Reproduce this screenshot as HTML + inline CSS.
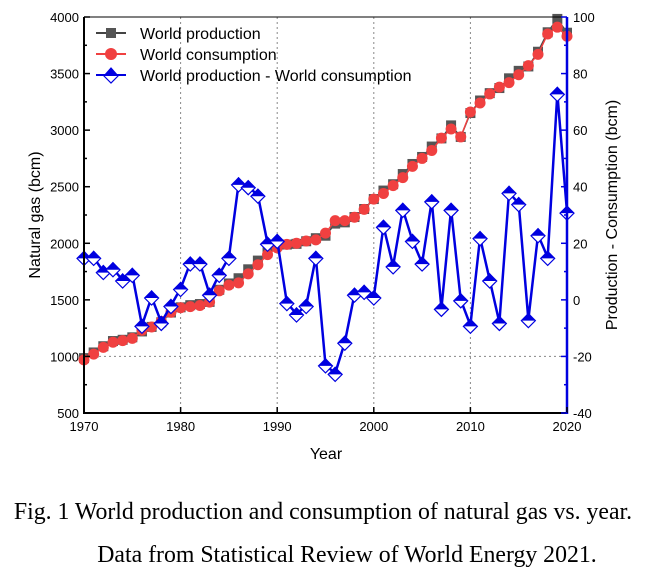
<!DOCTYPE html>
<html><head><meta charset="utf-8"><style>
body{margin:0;background:#fff;width:646px;height:575px;overflow:hidden}
svg text{font-family:"Liberation Sans",Arial,sans-serif}
.cap{font-family:"Liberation Serif",serif;font-size:23.8px}
</style></head><body>
<svg id="chart" width="646" height="575" viewBox="0 0 646 575" xmlns="http://www.w3.org/2000/svg">
<g id="grid"></g>
<g id="series"></g>
<g id="axes"></g>
<g>
  <line x1="96" y1="33" x2="126" y2="33" stroke="#444" stroke-width="2"/>
  <rect x="106" y="28" width="10" height="10" fill="#555"/>
  <text x="140" y="39" font-size="16">World production</text>
  <line x1="96" y1="54" x2="126" y2="54" stroke="#f04040" stroke-width="2"/>
  <circle cx="111" cy="54" r="6" fill="#f04040"/>
  <text x="140" y="60" font-size="16">World consumption</text>
  <line x1="96" y1="75" x2="126" y2="75" stroke="#0000e0" stroke-width="2"/>
  <polygon points="111,68 118,76 111,83 104,76" fill="#fff" stroke="#0000e0" stroke-width="1.2"/>
  <polygon points="111,68 118,76 104,76" fill="#0000e0"/>
  <text x="140" y="81" font-size="16">World production - World consumption</text>
</g>
<text x="326" y="459" font-size="16" text-anchor="middle">Year</text>
<text transform="translate(40,215) rotate(-90)" font-size="16" text-anchor="middle">Natural gas (bcm)</text>
<text transform="translate(617,215) rotate(-90)" font-size="16" text-anchor="middle">Production - Consumption (bcm)</text>
<text class="cap" x="323" y="519" text-anchor="middle">Fig. 1 World production and consumption of natural gas vs. year.</text>
<text class="cap" x="347" y="562" text-anchor="middle">Data from Statistical Review of World Energy 2021.</text>
</svg>
<script>
const years=[];for(let y=1970;y<=2020;y++)years.push(y);
const consumption=[970,1020,1080,1125,1140,1160,1230,1260,1310,1390,1430,1440,1450,1480,1580,1630,1650,1730,1810,1900,1960,1990,2000,2020,2030,2090,2200,2200,2230,2300,2390,2440,2510,2580,2680,2750,2820,2930,3010,2940,3160,3240,3320,3380,3420,3490,3570,3670,3850,3910,3830];
const production=[985,1035,1090,1136,1147,1169,1221,1261,1302,1388,1434,1453,1463,1482,1589,1645,1691,1770,1847,1920,1981,1989,1995,2018,2045,2067,2174,2185,2232,2303,2391,2466,2522,2612,2701,2763,2855,2927,3042,2940,3151,3262,3327,3372,3458,3524,3563,3693,3865,3983,3861];
const difference=[15,15,10,11,7,9,-9,1,-8,-2,4,13,13,2,9,15,41,40,37,20,21,-1,-5,-2,15,-23,-26,-15,2,3,1,26,12,32,21,13,35,-3,32,0,-9,22,7,-8,38,34,-7,23,15,73,31];
const xTicks=[1970,1980,1990,2000,2010,2020];
const leftTicks=[500,1000,1500,2000,2500,3000,3500,4000];
const rightTicks=[-40,-20,0,20,40,60,80,100];
const X0=84,X1=567,Y0=413,Y1=17;
const xs=v=>X0+(v-1970)/50*(X1-X0);
const yl=v=>Y0-(v-500)/3500*(Y0-Y1);
const yr=v=>Y0-(v+40)/140*(Y0-Y1);
const NS="http://www.w3.org/2000/svg";
function mk(p,tag,at){const e=document.createElementNS(NS,tag);for(const k in at)e.setAttribute(k,at[k]);p.appendChild(e);return e;}
const grid=document.getElementById('grid'),ser=document.getElementById('series'),ax=document.getElementById('axes');
[1980,1990,2000,2010].forEach(v=>{const l=mk(grid,'line',{x1:xs(v),x2:xs(v),y1:Y1,y2:Y0,stroke:'#888','stroke-dasharray':'2,3','stroke-width':1});

});
{const l=mk(grid,'line',{x1:X0,x2:X1,y1:yr(-20),y2:yr(-20),stroke:'#888','stroke-dasharray':'2,3','stroke-width':1});

}
mk(ser,'polyline',{points:years.map((y,i)=>xs(y)+','+yl(production[i])).join(' '),fill:'none',stroke:'#444','stroke-width':1.5});
years.forEach((y,i)=>{const r=mk(ser,'rect',{x:xs(y)-5,y:yl(production[i])-5,width:10,height:10,fill:'#555'});

});
mk(ser,'polyline',{points:years.map((y,i)=>xs(y)+','+yl(consumption[i])).join(' '),fill:'none',stroke:'#f04040','stroke-width':1.5});
years.forEach((y,i)=>{const c=mk(ser,'circle',{cx:xs(y),cy:yl(consumption[i]),r:5.5,fill:'#f04040'});

});
mk(ser,'polyline',{points:years.map((y,i)=>xs(y)+','+yr(difference[i])).join(' '),fill:'none',stroke:'#0000e0','stroke-width':2.5});
years.forEach((y,i)=>{const x=xs(y),v=yr(difference[i]);
const g=mk(ser,'g',{});


mk(g,'polygon',{points:`${x},${v-6} ${x+7},${v+1} ${x},${v+8} ${x-7},${v+1}`,fill:'#fff',stroke:'#0000e0','stroke-width':1.2});
mk(g,'polygon',{points:`${x},${v-7} ${x+7},${v+1} ${x-7},${v+1}`,fill:'#0000e0'});});
mk(ax,'line',{x1:X0,x2:X0,y1:Y1,y2:Y0+1,stroke:'#000','stroke-width':2});
mk(ax,'line',{x1:X0,x2:X1,y1:Y0,y2:Y0,stroke:'#000','stroke-width':2});
mk(ax,'line',{x1:X1,x2:X1,y1:Y1,y2:Y0+1,stroke:'#0000e0','stroke-width':2.5});
mk(ax,'line',{x1:X0,x2:X1,y1:Y1,y2:Y1,stroke:'#000','stroke-width':1});
xTicks.forEach(v=>{mk(ax,'line',{x1:xs(v),x2:xs(v),y1:Y0,y2:Y0-6,stroke:'#000','stroke-width':1.5});
const t=mk(ax,'text',{x:xs(v),y:Y0+18,'font-size':13,'text-anchor':'middle'});t.textContent=v;

});
leftTicks.forEach((v,i)=>{mk(ax,'line',{x1:X0,x2:X0+6,y1:yl(v),y2:yl(v),stroke:'#000','stroke-width':1.5});
if(i<leftTicks.length-1)mk(ax,'line',{x1:X0,x2:X0+3,y1:yl(v+250),y2:yl(v+250),stroke:'#000','stroke-width':1.5});
const t=mk(ax,'text',{x:X0-5,y:yl(v)+5,'font-size':13,'text-anchor':'end'});t.textContent=v;

});
rightTicks.forEach((v,i)=>{mk(ax,'line',{x1:X1,x2:X1-6,y1:yr(v),y2:yr(v),stroke:'#0000e0','stroke-width':1.5});
if(i<rightTicks.length-1)mk(ax,'line',{x1:X1,x2:X1-3,y1:yr(v+10),y2:yr(v+10),stroke:'#0000e0','stroke-width':1.5});
const t=mk(ax,'text',{x:X1+6,y:yr(v)+5,'font-size':13});t.textContent=v;

});
</script>
</body></html>
